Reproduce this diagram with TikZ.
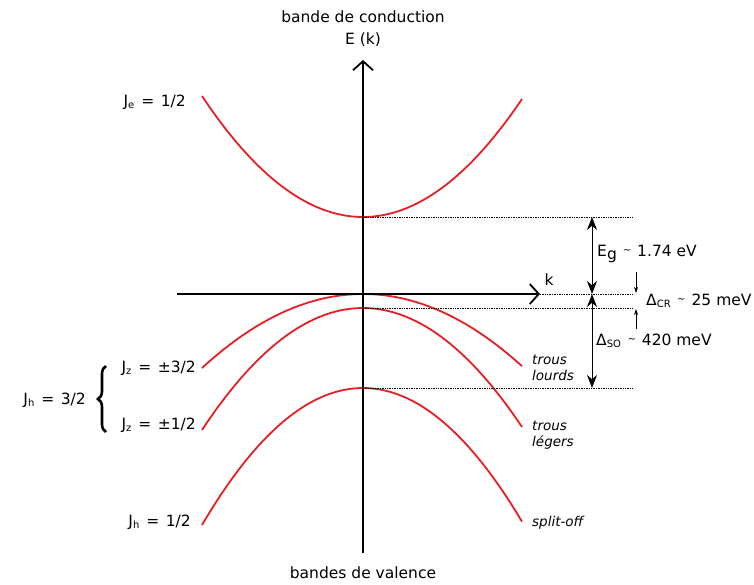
\documentclass[tikz,border=0pt]{standalone}
\usepackage{fontspec}
\setmainfont{DejaVu Sans}
\usetikzlibrary{arrows.meta,decorations.pathreplacing}
\definecolor{bandred}{RGB}{228,32,38}
\newcommand{\subs}[1]{\textsubscript{\fontsize{10}{10}\selectfont #1}}
\newcommand{\tild}{\hspace{6pt}\raisebox{3pt}{\fontsize{10}{10}\selectfont\char`~}\hspace{6pt}}
\newcommand{\eqgap}{\hspace{6.5pt}=\hspace{6.5pt}}
\begin{document}
\begin{tikzpicture}[x=1pt,y=-1pt,
  every node/.style={font=\fontsize{15.5}{18}\selectfont, inner sep=1pt},
  ital/.style={font=\fontsize{13.5}{16.5}\selectfont\itshape, align=left, anchor=west},
  band/.style={bandred, line width=1.8pt},
  axis/.style={line width=1.8pt, -{Straight Barb[length=9pt,width=20pt,line width=1.8pt]}},
  guide/.style={densely dotted, line width=0.7pt},
  dbl/.style={line width=1pt, {Stealth[length=13pt,width=10pt]}-{Stealth[length=13pt,width=10pt]}},
  small/.style={line width=0.7pt, -{Stealth[length=6pt,width=4pt]}}]
\useasboundingbox (0,0) rectangle (754,584);
% coordinates
\coordinate (vb) at (363,553);
\coordinate (vt) at (363,60);
\coordinate (hl) at (177,294);
\coordinate (hr) at (540,294);
\coordinate (cbmin) at (363,217);
\coordinate (lhmax) at (363,308);
\coordinate (somax) at (363,388);
\coordinate (g1) at (633,217);
\coordinate (g2) at (633,294);
\coordinate (g3) at (633,308);
\coordinate (g4) at (633,388);
\coordinate (a1) at (592,217);
\coordinate (a2) at (592,294);
\coordinate (a3) at (592,388);
\coordinate (s1) at (636,272);
\coordinate (s2) at (636,293);
\coordinate (s3) at (636,329);
\coordinate (s4) at (636,309);
% bands
\draw[band] plot[domain=202:522, samples=80] (\x, {217-121*((\x-363)/161)^2});
\draw[band] plot[domain=202:522, samples=80] (\x, {294+74*((\x-363)/161)^2});
\draw[band] plot[domain=202:522, samples=80] (\x, {308+122*((\x-363)/161)^2});
\draw[band] plot[domain=202:522, samples=80] (\x, {388+137*((\x-363)/161)^2});
% guides
\draw[guide] (cbmin) -- (g1);
\draw[guide] (hr) -- (g2);
\draw[guide] (lhmax) -- (g3);
\draw[guide] (somax) -- (g4);
% axes
\draw[axis] (vb) -- (vt);
\draw[axis] (hl) -- (hr);
% gap arrows
\draw[dbl] (a1) -- (a2);
\draw[dbl] (a2) -- (a3);
\draw[small] (s1) -- (s2);
\draw[small] (s3) -- (s4);
% labels
\node (top1) at (363,17) {bande de conduction};
\node (top2) at (363,40) {E (k)};
\node (bot) at (363,573) {bandes de valence};
\node (klab) at (549,280) {k};
\node[anchor=west] (eg) at (596,254) {E\raisebox{-3pt}{g}\tild 1.74 eV};
\node[anchor=west] (dcr) at (645,301) {Δ\subs{CR}\tild 25 meV};
\node[anchor=west] (dso) at (595,341) {Δ\subs{SO}\tild 420 meV};
\node[anchor=east] (je) at (187,102) {J\subs{e}\eqgap 1/2};
\node[anchor=east] (jz3) at (197,368) {J\subs{z}\eqgap ±3/2};
\node[anchor=east] (jz1) at (197,425) {J\subs{z}\eqgap ±1/2};
\node[anchor=east] (jh3) at (87,400) {J\subs{h}\eqgap 3/2};
\node[anchor=east] (jh1) at (192,522) {J\subs{h}\eqgap 1/2};
\coordinate (b1) at (106,432);
\coordinate (b2) at (106,366);
\draw[line width=2.6pt, decorate, decoration={brace, amplitude=8pt}] (b1) -- (b2);
\node[ital] (tl) at (531,368) {trous\\lourds};
\node[ital] (tg) at (531,435) {trous\\légers};
\node[ital] (so) at (531,523) {split-off};
\end{tikzpicture}
\end{document}
